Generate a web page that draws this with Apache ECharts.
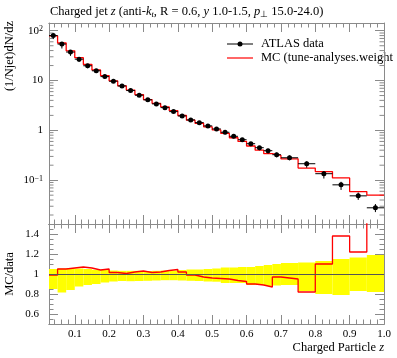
<!DOCTYPE html>
<html><head><meta charset="utf-8">
<script src="https://cdn.jsdelivr.net/npm/echarts@6/dist/echarts.min.js"></script>
<style>html,body{margin:0;padding:0;background:#fff}#c{width:397px;height:358px}</style>
</head><body><div id="c"></div>
<script>
const FONT = 'Liberation Serif';
// bin edges of the z histogram
const binEdges = [0.025,0.05,0.075,0.1,0.125,0.15,0.175,0.2,0.225,0.25,0.275,0.3,0.325,0.35,0.375,0.4,0.425,0.45,0.475,0.5,0.525,0.55,0.575,0.6,0.625,0.65,0.675,0.7,0.75,0.8,0.85,0.9,0.95,1.0];
// ATLAS data (1/Njet)dN/dz
const dataValues = [80,54,37.3,26.9,19.8,15.7,12.0,9.7,7.8,6.3,5.08,4.1,3.4,2.86,2.38,1.95,1.62,1.43,1.23,1.07,0.916,0.76,0.65,0.54,0.449,0.391,0.325,0.282,0.214,0.135,0.0807,0.0485,0.0279];
// MC prediction
const mcValues = [79.2,56.7,39.5,28.8,21.0,16.3,12.6,9.85,7.84,6.43,5.23,4.16,3.47,2.96,2.49,1.99,1.60,1.39,1.18,1.02,0.870,0.711,0.601,0.486,0.400,0.340,0.315,0.268,0.175,0.149,0.111,0.0592,0.0502];
// MC/data ratio
const ratioValues = [0.99,1.05,1.06,1.07,1.06,1.04,1.05,1.015,1.005,1.02,1.03,1.015,1.02,1.035,1.045,1.02,0.99,0.97,0.96,0.955,0.95,0.935,0.925,0.90,0.89,0.87,0.97,0.95,0.82,1.10,1.38,1.22,1.8];
// data uncertainty band (relative)
const bandLo = [0.85,0.815,0.84,0.875,0.89,0.90,0.915,0.925,0.93,0.928,0.93,0.932,0.935,0.938,0.938,0.935,0.932,0.93,0.925,0.923,0.91,0.91,0.91,0.89,0.89,0.88,0.885,0.89,0.83,0.80,0.79,0.83,0.82];
const bandHi = [1.05,1.055,1.06,1.055,1.05,1.042,1.042,1.035,1.032,1.032,1.032,1.03,1.032,1.035,1.035,1.04,1.045,1.045,1.05,1.055,1.065,1.065,1.07,1.07,1.08,1.09,1.10,1.11,1.115,1.13,1.15,1.165,1.19];
// ticks
const xTickValues = [0.1,0.2,0.3,0.4,0.5,0.6,0.7,0.8,0.9,1.0];
const xMinorTickValues = Array.from({length:48},(_,k)=>+(0.04+0.02*k).toFixed(2));
const ratioTickValues = [0.6,0.8,1.0,1.2,1.4];
const ratioMinorTickValues = Array.from({length:19},(_,k)=>+(0.55+0.05*k).toFixed(2));
const logMinorTickValues = [0.02,0.03,0.04,0.05,0.06,0.07,0.08,0.09,0.2,0.3,0.4,0.5,0.6,0.7,0.8,0.9,2,3,4,5,6,7,8,9,20,30,40,50,60,70,80,90];

const X_MIN = 0.025, X_MAX = 1.0, Y_MIN = 0.0132, Y_MAX = 143, R_MIN = 0.5, R_MAX = 1.5;
const AX = '#8a8a8a';
const FS = 12.5, TFS = 11;
const nB = dataValues.length;

function xAx(grid, pos, major, labels) {
  return {
    type:'value', gridIndex:grid, position:pos, min:X_MIN, max:X_MAX,
    axisLine:{show:true, onZero:false, lineStyle:{color:AX, width:1}},
    axisTick:{show:true, inside:true, length: major?9:4.5, customValues: major?xTickValues:xMinorTickValues, lineStyle:{color:AX, width:1}},
    axisLabel: labels ? {show:true, customValues:xTickValues, formatter:v=>v.toFixed(1), color:'#000', fontFamily:FONT, fontSize:TFS, margin:5} : {show:false},
    splitLine:{show:false}
  };
}
function rAx(pos, major, labels) {
  return {
    type:'value', gridIndex:1, position:pos, min:R_MIN, max:R_MAX,
    axisLine:{show:true, onZero:false, lineStyle:{color:AX, width:1}},
    axisTick:{show:true, inside:true, length: major?9:4.5, customValues: major?ratioTickValues:ratioMinorTickValues, lineStyle:{color:AX, width:1}},
    axisLabel: labels ? {show:true, customValues:ratioTickValues, color:'#000', fontFamily:FONT, fontSize:TFS, margin:10} : {show:false},
    splitLine:{show:false}
  };
}
function logAx(pos, labels) {
  return {
    type:'log', logBase:10, gridIndex:0, position:pos, min:Y_MIN, max:Y_MAX,
    axisLine:{show:true, onZero:false, lineStyle:{color:AX, width:1}},
    axisTick:{show:true, inside:true, length:9, lineStyle:{color:AX, width:1}},
    axisLabel: labels ? {show:true, showMinLabel:false, showMaxLabel:false, color:'#000', fontFamily:FONT, fontSize:TFS, margin:6,
      formatter: v => {
        const e = Math.round(Math.log10(v));
        if (e === 0) return '1';
        if (e === 1) return '10';
        return '10{sup|' + (e < 0 ? '\u2212' + (-e) : e) + '}';
      },
      rich:{sup:{fontSize:8, fontFamily:FONT, color:'#000', verticalAlign:'top', lineHeight:8}}
    } : {show:false},
    splitLine:{show:false}
  };
}

const edgeLine = vals => binEdges.map((e,i)=>[e, vals[Math.min(i, nB-1)]]);

const chart = echarts.init(document.getElementById('c'), null, {renderer:'canvas'});
chart.setOption({
  animation:false,
  backgroundColor:'#fff',
  title:{
    text:'Charged jet {i|z} (anti-{i|k}{sub|t}, R = 0.6, {i|y} 1.0-1.5, {i|p}{subn|\u22a5} 15.0-24.0)',
    left:50, top:5, padding:0,
    textStyle:{fontFamily:FONT, fontSize:FS, fontWeight:'normal', color:'#000', lineHeight:14,
      rich:{
        i:{fontFamily:FONT, fontSize:FS, fontStyle:'italic', color:'#000', lineHeight:14},
        sub:{fontFamily:FONT, fontSize:8.5, fontStyle:'italic', color:'#000', verticalAlign:'bottom', lineHeight:8},
        subn:{fontFamily:FONT, fontSize:8.5, color:'#000', verticalAlign:'bottom', lineHeight:8}
      }}
  },
  grid:[
    {left:49, right:13, top:23, height:201},
    {left:49, right:13, top:224, height:100}
  ],
  xAxis:[
    xAx(0,'bottom',true,false), xAx(0,'bottom',false,false), xAx(0,'top',true,false), xAx(0,'top',false,false),
    xAx(1,'bottom',true,true), xAx(1,'bottom',false,false), xAx(1,'top',true,false), xAx(1,'top',false,false)
  ],
  yAxis:[
    logAx('left',true), logAx('right',false),
    rAx('left',true,true), rAx('left',false,false), rAx('right',true,false), rAx('right',false,false)
  ],
  graphic:[
    {type:'text', x:10, y:21, rotation:Math.PI/2, style:{text:'(1/Njet)dN/dz', fontFamily:FONT, fontSize:FS, fill:'#000', align:'right', textAlign:'right', verticalAlign:'middle', textVerticalAlign:'middle'}},
    {type:'text', x:10, y:274, rotation:Math.PI/2, style:{text:'MC/data', fontFamily:FONT, fontSize:FS, fill:'#000', align:'center', textAlign:'center', verticalAlign:'middle', textVerticalAlign:'middle'}},
    {type:'text', x:384, y:348, style:{text:'Charged Particle {i|z}', fontFamily:FONT, fontSize:FS, fill:'#000', align:'right', textAlign:'right', verticalAlign:'middle', textVerticalAlign:'middle',
      rich:{i:{fontFamily:FONT, fontSize:FS, fontStyle:'italic', fill:'#000'}}}},
    {type:'line', shape:{x1:227, y1:44, x2:253, y2:44}, style:{stroke:'#000', lineWidth:1}},
    {type:'circle', shape:{cx:240, cy:44, r:2.5}, style:{fill:'#000'}},
    {type:'text', x:261, y:44, style:{text:'ATLAS data', fontFamily:FONT, fontSize:FS, fill:'#000', verticalAlign:'middle', textVerticalAlign:'middle'}},
    {type:'line', shape:{x1:227, y1:58, x2:253, y2:58}, style:{stroke:'#f00', lineWidth:1.2}},
    {type:'text', x:261, y:58, style:{text:'MC (tune-analyses.weight', fontFamily:FONT, fontSize:FS, fill:'#000', verticalAlign:'middle', textVerticalAlign:'middle'}}
  ],
  series:[
    // log minor ticks (left and right)
    {type:'custom', xAxisIndex:0, yAxisIndex:0, silent:true,
      data: logMinorTickValues.map(v=>[0.5, v]), encode:{x:0, y:1},
      renderItem:(params, api)=>{
        const cs = params.coordSys;
        const y = api.coord([0.5, api.value(1)])[1];
        return {type:'group', children:[
          {type:'line', shape:{x1:cs.x, y1:y, x2:cs.x+4.5, y2:y}, style:{stroke:AX, lineWidth:1}},
          {type:'line', shape:{x1:cs.x+cs.width-4.5, y1:y, x2:cs.x+cs.width, y2:y}, style:{stroke:AX, lineWidth:1}}
        ]};
      }},
    // MC histogram (top)
    {type:'line', xAxisIndex:0, yAxisIndex:0, step:'end', showSymbol:false, silent:true,
      data: edgeLine(mcValues), lineStyle:{color:'#f00', width:1.3}, z:3},
    // data points with error bars (top)
    {type:'custom', xAxisIndex:0, yAxisIndex:0, silent:true, z:4,
      data: dataValues.map((d,i)=>[binEdges[i], binEdges[i+1], d, d*bandLo[i], d*bandHi[i]]),
      encode:{x:[0,1], y:[2,3,4]},
      renderItem:(params, api)=>{
        const x0 = api.value(0), x1 = api.value(1), y = api.value(2);
        const xc = (x0 + x1) / 2;
        const pL = api.coord([x0, y]), pR = api.coord([x1, y]);
        const pLo = api.coord([xc, api.value(3)]), pHi = api.coord([xc, api.value(4)]);
        return {type:'group', children:[
          {type:'line', shape:{x1:pL[0], y1:pL[1], x2:pR[0], y2:pR[1]}, style:{stroke:'#000', lineWidth:1}},
          {type:'line', shape:{x1:pLo[0], y1:pLo[1], x2:pHi[0], y2:pHi[1]}, style:{stroke:'#000', lineWidth:1}},
          {type:'circle', shape:{cx:pLo[0], cy:pL[1], r:2.5}, style:{fill:'#000'}}
        ]};
      }},
    // ratio band
    {type:'custom', xAxisIndex:4, yAxisIndex:2, silent:true, z:1,
      data: bandLo.map((lo,i)=>[binEdges[i], binEdges[i+1], lo, bandHi[i]]),
      encode:{x:[0,1], y:[2,3]},
      renderItem:(params, api)=>{
        const a = api.coord([api.value(0), api.value(3)]);
        const b = api.coord([api.value(1), api.value(2)]);
        return {type:'rect', shape:{x:a[0], y:a[1], width:b[0]-a[0], height:b[1]-a[1]}, style:{fill:'#ffff00'}};
      }},
    // ratio MC/data
    {type:'line', xAxisIndex:4, yAxisIndex:2, step:'end', showSymbol:false, silent:true, z:3,
      data: edgeLine(ratioValues), lineStyle:{color:'#f00', width:1.3},
      markLine:{silent:true, symbol:'none', label:{show:false}, lineStyle:{color:'#555', width:1, type:'solid'}, data:[{yAxis:1}]}}
  ]
});
</script></body></html>
